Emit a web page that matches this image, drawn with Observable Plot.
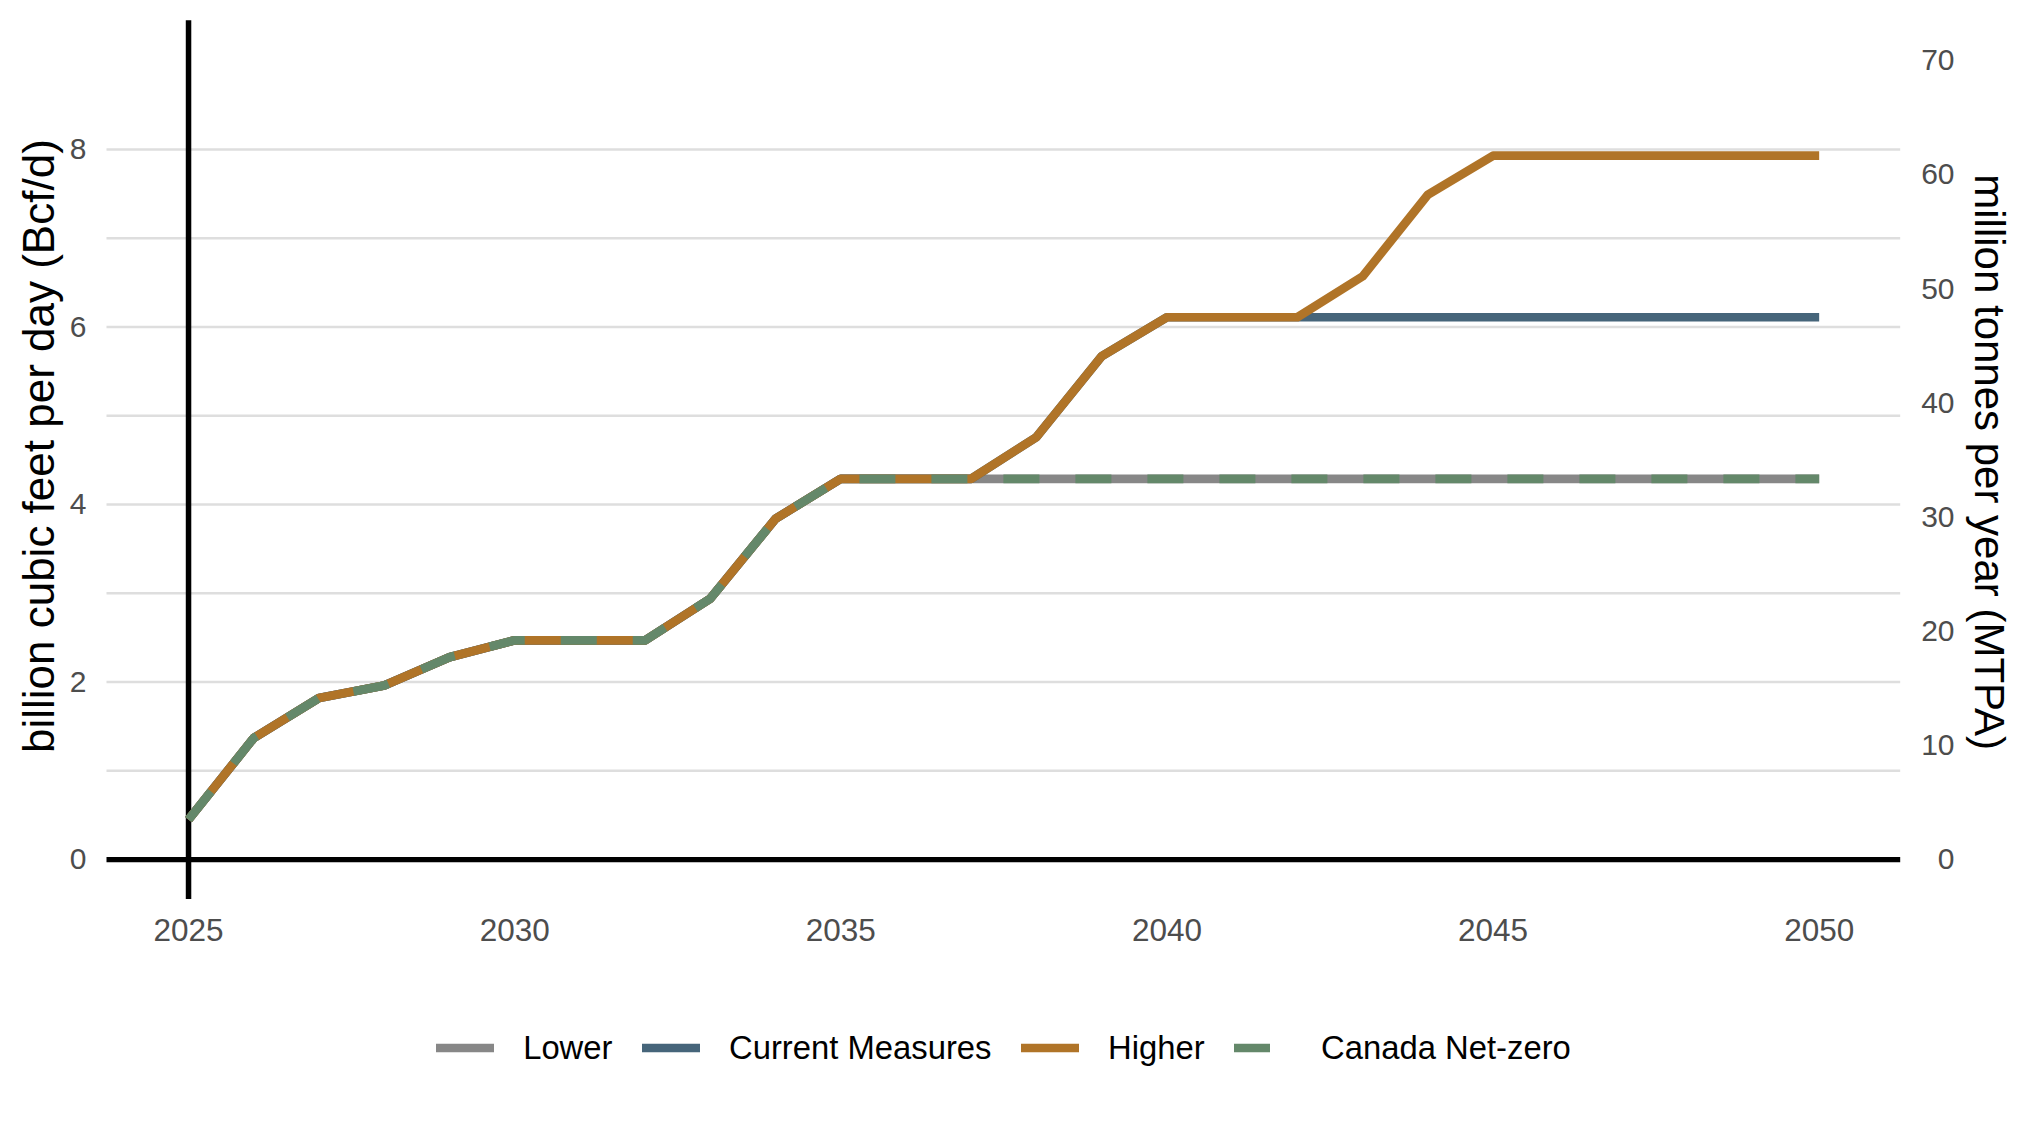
<!DOCTYPE html>
<html>
<head>
<meta charset="utf-8">
<script src="https://cdn.jsdelivr.net/npm/d3@7"></script>
<script src="https://cdn.jsdelivr.net/npm/@observablehq/plot@0.6"></script>
<style>
  html, body { margin: 0; padding: 0; background: #fff; overflow: hidden; }
  body { font-family: "Liberation Sans", Arial, Helvetica, sans-serif; width: 2025px; height: 1125px; }
  #chart svg { display: block; }
  #legend { height: 115px; display: flex; align-items: center; justify-content: center; padding-right: 18px; box-sizing: border-box; }
  .item { display: flex; align-items: center; }
  .item svg { display: block; }
  .lab { font-size: 32.8px; color: #000; margin-left: 29px; margin-right: 29.5px; white-space: nowrap; }
  .item:last-child .lab { margin-right: 0; }
</style>
</head>
<body>
<div id="chart"></div>
<div id="legend"></div>
<script>
// ---- data (Bcf/d) ----
const years = [2025, 2026, 2027, 2028, 2029, 2030, 2031, 2032, 2033, 2034, 2035, 2036, 2037,
               2038, 2039, 2040, 2041, 2042, 2043, 2044, 2045, 2046, 2047, 2048, 2049, 2050];
const lower = [0.45, 1.37, 1.82, 1.96, 2.28, 2.47, 2.47, 2.47, 2.94, 3.84, 4.29, 4.29, 4.29,
               4.29, 4.29, 4.29, 4.29, 4.29, 4.29, 4.29, 4.29, 4.29, 4.29, 4.29, 4.29, 4.29];
const currentMeasures = [0.45, 1.37, 1.82, 1.96, 2.28, 2.47, 2.47, 2.47, 2.94, 3.84, 4.29, 4.29, 4.29,
               4.76, 5.67, 6.11, 6.11, 6.11, 6.11, 6.11, 6.11, 6.11, 6.11, 6.11, 6.11, 6.11];
const higher = [0.45, 1.37, 1.82, 1.96, 2.28, 2.47, 2.47, 2.47, 2.94, 3.84, 4.29, 4.29, 4.29,
               4.76, 5.67, 6.11, 6.11, 6.11, 6.57, 7.49, 7.93, 7.93, 7.93, 7.93, 7.93, 7.93];
const canadaNetZero = [0.45, 1.37, 1.82, 1.96, 2.28, 2.47, 2.47, 2.47, 2.94, 3.84, 4.29, 4.29, 4.29,
               4.29, 4.29, 4.29, 4.29, 4.29, 4.29, 4.29, 4.29, 4.29, 4.29, 4.29, 4.29, 4.29];

const seriesNames = ["Lower", "Current Measures", "Higher", "Canada Net-zero"];
const seriesValues = [lower, currentMeasures, higher, canadaNetZero];
const seriesColors = ["#878787", "#46657A", "#B07428", "#64886A"];
const seriesDash = [null, null, null, "36,36"];

const xTicks = [2025, 2030, 2035, 2040, 2045, 2050];
const yTicks = [0, 2, 4, 6, 8];
const yGrid = [1, 2, 3, 4, 5, 6, 7, 8];
const mtpaTicks = [0, 10, 20, 30, 40, 50, 60, 70];
const mtpaPerBcfd = 70 / 9;

const leftTitle = "billion cubic feet per day (Bcf/d)";
const rightTitle = "million tonnes per year (MTPA)";

// ---- table ----
const rows = seriesNames.flatMap((s, si) => years.map((yr, i) => ({series: s, year: yr, value: seriesValues[si][i]})));

const W = 2025, H = 990;
const font = "Liberation Sans, Arial, Helvetica, sans-serif";

const lineMarks = seriesNames.map((s, si) =>
  Plot.line(rows.filter(d => d.series === s), {
    x: "year", y: "value",
    stroke: seriesColors[si], strokeWidth: 8.7,
    strokeLinecap: "butt", strokeLinejoin: "round",
    strokeDasharray: seriesDash[si] || undefined
  })
);

const chart = Plot.plot({
  width: W, height: H,
  marginLeft: 106.5, marginRight: 124.8, marginTop: 20.3, marginBottom: H - 899,
  style: {fontFamily: font, background: "#fff", overflow: "visible"},
  x: {domain: [2023.75, 2051.25], axis: null},
  y: {domain: [-0.45, 9.45], axis: null},
  marks: [
    Plot.ruleY(yGrid, {stroke: "#DEDEDE", strokeWidth: 2.6}),
    Plot.ruleY([0], {stroke: "#000", strokeWidth: 5.3}),
    Plot.ruleX([2025], {stroke: "#000", strokeWidth: 5.5}),
    ...lineMarks,
    Plot.axisX(xTicks, {tickSize: 0, tickPadding: 19, fontSize: 31.5, fill: "#4D4D4D", tickFormat: d => String(d), label: null}),
    Plot.axisY(yTicks, {anchor: "left", tickSize: 0, tickPadding: 20.5, fontSize: 30, fill: "#4D4D4D", tickFormat: d => String(d), label: null}),
    Plot.axisY(mtpaTicks.map(v => v / mtpaPerBcfd), {anchor: "right", tickSize: 0, tickPadding: 53.8, textAnchor: "end", fontSize: 30, fill: "#4D4D4D", tickFormat: d => String(Math.round(d * mtpaPerBcfd)), label: null}),
    Plot.text([leftTitle], {frameAnchor: "left", dx: -67.5, dy: -14, rotate: -90, fontSize: 44, textAnchor: "middle", lineAnchor: "middle", fill: "#000"}),
    Plot.text([rightTitle], {frameAnchor: "right", dx: 88, dy: 2, rotate: 90, fontSize: 42, textAnchor: "middle", lineAnchor: "middle", fill: "#000"})
  ]
});
document.getElementById("chart").appendChild(chart);

// ---- legend ----
const legend = document.getElementById("legend");
seriesNames.forEach((s, si) => {
  const item = document.createElement("div");
  item.className = "item";
  const ns = "http://www.w3.org/2000/svg";
  const svg = document.createElementNS(ns, "svg");
  svg.setAttribute("width", 58); svg.setAttribute("height", 12);
  const ln = document.createElementNS(ns, "line");
  ln.setAttribute("x1", 0); ln.setAttribute("x2", 58);
  ln.setAttribute("y1", 6); ln.setAttribute("y2", 6);
  ln.setAttribute("stroke", seriesColors[si]);
  ln.setAttribute("stroke-width", 8.4);
  if (seriesDash[si]) ln.setAttribute("stroke-dasharray", seriesDash[si]);
  svg.appendChild(ln);
  const lab = document.createElement("span");
  lab.className = "lab";
  lab.textContent = s;
  item.appendChild(svg); item.appendChild(lab);
  legend.appendChild(item);
});
</script>
</body>
</html>
